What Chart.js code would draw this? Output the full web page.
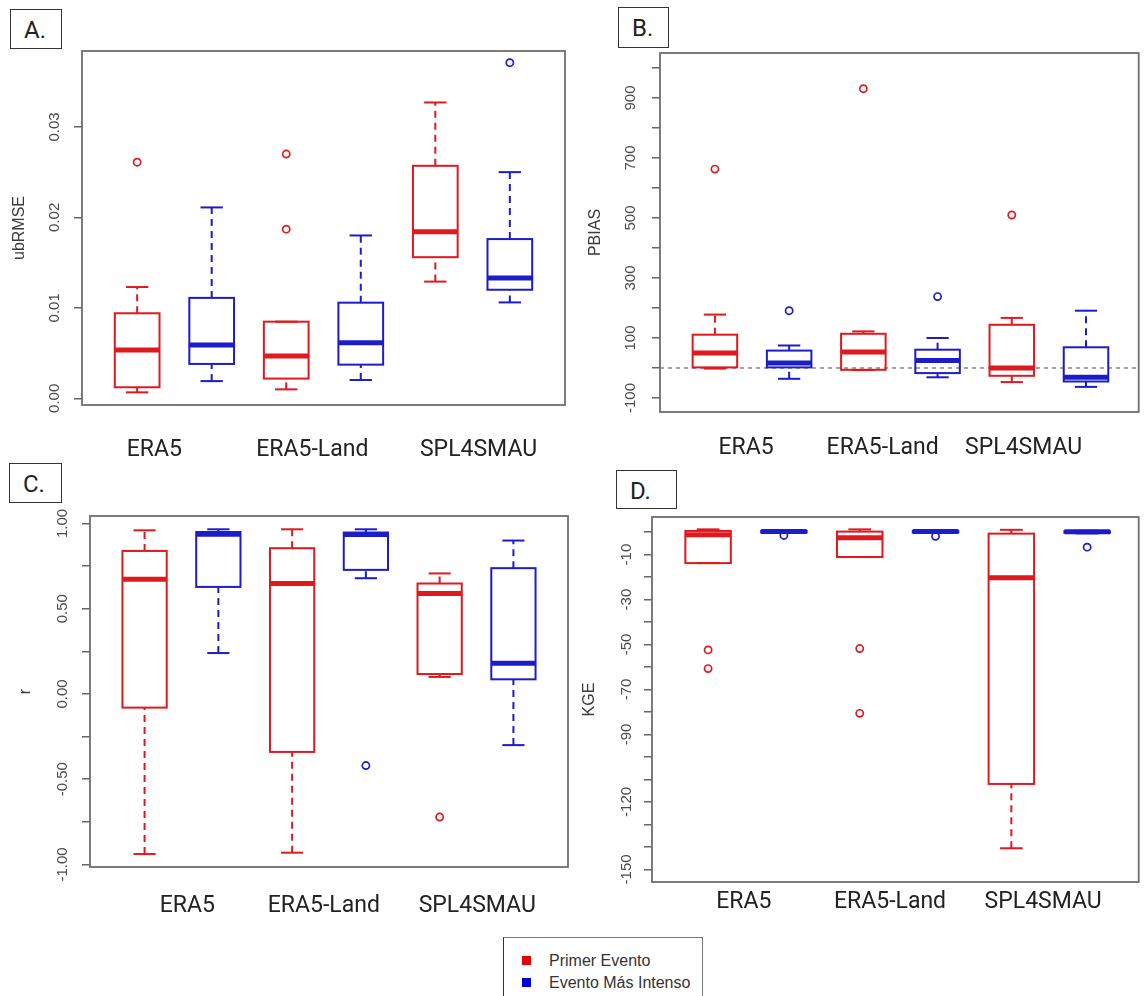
<!DOCTYPE html>
<html>
<head>
<meta charset="utf-8">
<script src="https://cdn.jsdelivr.net/npm/chart.js@4.4.1/dist/chart.umd.min.js"></script>
<style>
  html, body { margin: 0; padding: 0; background: #fff; }
  body { position: relative; width: 1144px; height: 996px; overflow: hidden; }
  canvas { position: absolute; }
  .etiqueta {
    position: absolute; box-sizing: border-box; border: 1.5px solid #333; background: #fff;
    font: 24px Roboto, sans-serif; color: #222; padding: 8px 0 0 13px; line-height: 24px;
  }
  .leyenda {
    position: absolute; left: 503px; top: 937px; width: 200px; height: 70px; box-sizing: border-box;
    border: 1.5px solid #777; border-left-color: #333; background: #fff;
    font: 16px "Liberation Sans", Arial, sans-serif; color: #333; padding-top: 12px;
  }
  .fila { position: relative; height: 22px; line-height: 22px; padding-left: 45px; }
  .cuadro { position: absolute; left: 18px; top: 6px; width: 9px; height: 9px; }
</style>
</head>
<body>
<div class="etiqueta" style="left:10px;top:9px;width:52px;height:40px">A.</div>
<div class="etiqueta" style="left:618px;top:7px;width:51px;height:41px">B.</div>
<div class="etiqueta" style="left:9px;top:463px;width:53px;height:40px">C.</div>
<div class="etiqueta" style="left:616px;top:470px;width:61px;height:39px">D.</div>

<canvas id="panelA" width="580" height="470" style="left:0;top:0"></canvas>
<canvas id="panelB" width="564" height="470" style="left:580px;top:0"></canvas>
<canvas id="panelC" width="580" height="460" style="left:0;top:470px"></canvas>
<canvas id="panelD" width="564" height="460" style="left:580px;top:470px"></canvas>

<div class="leyenda" id="leyenda"></div>

<script>
// ── Datos ──
var CATEGORIAS = ['ERA5', 'ERA5-Land', 'SPL4SMAU'];
var SERIES = ['Primer Evento', 'Evento Más Intenso'];
var COLORES = ['#e0191f', '#1c1cc8'];
var POSICIONES = [[1, 2], [3, 4], [5, 6]];   // rojo / azul por categoría

// cada caja: [mín, Q1, mediana, Q3, máx]
var ubrmsePrimer  = [[0.00066, 0.00122, 0.00534, 0.0094, 0.0123], [0.00099, 0.00218, 0.00468, 0.00847, 0.00847], [0.0129, 0.0156, 0.0184, 0.0257, 0.0327]];
var ubrmseIntenso = [[0.0019, 0.0038, 0.0059, 0.0111, 0.0211], [0.00202, 0.00372, 0.00615, 0.01057, 0.0180], [0.0106, 0.0120, 0.0133, 0.0176, 0.0250]];
var ubrmseAtipPrimer  = [[0.0261], [0.0270, 0.0187], []];
var ubrmseAtipIntenso = [[], [], [0.0371]];
var ubrmseMarcas = [0, 0.01, 0.02, 0.03];
var ubrmseTextos = [0, 0.01, 0.02, 0.03];

var pbiasPrimer  = [[-2, 2, 50, 111, 178], [-7, -6, 53, 114, 122], [-47, -26, 0, 144, 167]];
var pbiasIntenso = [[-36, 2, 17, 58, 75], [-31, -17, 25, 61, 100], [-63, -45, -31, 69, 191]];
var pbiasAtipPrimer  = [[663], [931], [510]];
var pbiasAtipIntenso = [[191], [238], []];
var pbiasMarcas = [-100, 0, 100, 200, 300, 400, 500, 600, 700, 800, 900, 1000];
var pbiasTextos = [-100, 100, 300, 500, 700, 900];

var rPrimer  = [[-0.939, -0.080, 0.673, 0.839, 0.960], [-0.931, -0.340, 0.648, 0.855, 0.966], [0.100, 0.117, 0.590, 0.648, 0.707]];
var rIntenso = [[0.240, 0.628, 0.937, 0.950, 0.966], [0.679, 0.728, 0.935, 0.947, 0.966], [-0.300, 0.086, 0.180, 0.738, 0.900]];
var rAtipPrimer  = [[], [], [-0.722]];
var rAtipIntenso = [[], [-0.420], []];
var rMarcas = [-1, -0.75, -0.5, -0.25, 0, 0.25, 0.5, 0.75, 1];
var rTextos = [-1, -0.5, 0, 0.5, 1];

var kgePrimer  = [[-13.8, -13.8, -1.2, 0.5, 1.2], [-11.1, -11.1, -2.5, 0.2, 1.2], [-140.6, -112, -20.3, -0.7, 1.0]];
var kgeIntenso = [[-0.4, -0.2, 0.3, 0.5, 0.8], [-0.4, -0.2, 0.3, 0.5, 0.8], [-0.6, -0.3, 0.1, 0.4, 0.6]];
var kgeAtipPrimer  = [[-52.4, -60.7], [-51.8, -80.6], []];
var kgeAtipIntenso = [[-1.5], [-1.9], [-6.7]];
var kgeMarcas = [0, -10, -20, -30, -40, -50, -60, -70, -80, -90, -100, -110, -120, -130, -140, -150];
var kgeTextos = [-10, -30, -50, -70, -90, -120, -150];

var ANCHO_CAJA = 0.6;

// ── Plugin: cajas, marco y textos ──
function pluginCajas(p) {
  function linea(ctx, x1, y1, x2, y2) {
    ctx.beginPath(); ctx.moveTo(x1, y1); ctx.lineTo(x2, y2); ctx.stroke();
  }
  return {
    id: 'cajas',
    beforeDatasetsDraw: function (chart) {
      var ctx = chart.ctx, sx = chart.scales.x, sy = chart.scales.y, a = chart.chartArea;
      ctx.save();
      if (p.lineaCero) {
        ctx.strokeStyle = '#888'; ctx.lineWidth = 1.5; ctx.setLineDash([4, 4]);
        var y0 = sy.getPixelForValue(0);
        linea(ctx, a.left, y0, a.right, y0);
        ctx.setLineDash([]);
      }
      [p.primer, p.intenso].forEach(function (grupo, si) {
        ctx.strokeStyle = COLORES[si];
        grupo.forEach(function (st, ci) {
          var pos = POSICIONES[ci][si];
          var xc = sx.getPixelForValue(pos);
          var half = sx.getPixelForValue(pos + ANCHO_CAJA / 2) - xc;
          var py = st.map(function (v) { return sy.getPixelForValue(v); });
          ctx.lineWidth = 2;
          ctx.setLineDash([7, 5]);
          linea(ctx, xc, py[0], xc, py[1]);
          linea(ctx, xc, py[3], xc, py[4]);
          ctx.setLineDash([]);
          linea(ctx, xc - half / 2, py[0], xc + half / 2, py[0]);
          linea(ctx, xc - half / 2, py[4], xc + half / 2, py[4]);
          ctx.strokeRect(xc - half, py[3], 2 * half, py[1] - py[3]);
          ctx.lineWidth = 5;
          linea(ctx, xc - half, py[2], xc + half, py[2]);
        });
      });
      ctx.restore();
    },
    afterDraw: function (chart) {
      var ctx = chart.ctx, sx = chart.scales.x, sy = chart.scales.y, a = chart.chartArea;
      ctx.save();
      ctx.strokeStyle = '#6e6e6e'; ctx.lineWidth = 1.8;
      ctx.strokeRect(a.left, a.top, a.right - a.left, a.bottom - a.top);

      ctx.fillStyle = '#4a4a4a';
      ctx.font = '15px "Liberation Sans", Arial, sans-serif';
      ctx.textAlign = 'center'; ctx.textBaseline = 'middle';
      p.textos.forEach(function (v) {
        ctx.save();
        ctx.translate(p.xTextos, sy.getPixelForValue(v));
        ctx.rotate(-Math.PI / 2);
        ctx.fillText(p.formato(v), 0, 0);
        ctx.restore();
      });

      ctx.save();
      ctx.fillStyle = '#3a3a3a';
      ctx.font = '16px "Liberation Sans", Arial, sans-serif';
      ctx.translate(p.xTitulo, (a.top + a.bottom) / 2);
      ctx.rotate(-Math.PI / 2);
      ctx.fillText(p.titulo, 0, 0);
      ctx.restore();

      ctx.fillStyle = '#222';
      ctx.font = '23px Roboto, sans-serif';
      CATEGORIAS.forEach(function (c, i) {
        ctx.fillText(c, sx.getPixelForValue(p.posCategorias[i]), p.yCategorias);
      });
      ctx.restore();
    }
  };
}

function construirPanel(id, p) {
  var canvas = document.getElementById(id);
  var W = canvas.width, H = canvas.height;
  var datasets = [p.atipPrimer, p.atipIntenso].map(function (grupo, si) {
    var puntos = [];
    grupo.forEach(function (vals, ci) {
      vals.forEach(function (v) { puntos.push({ x: POSICIONES[ci][si], y: v }); });
    });
    return {
      label: SERIES[si],
      data: puntos,
      pointRadius: 3.6,
      pointHoverRadius: 3.6,
      pointBorderWidth: 1.7,
      pointBorderColor: COLORES[si],
      pointBackgroundColor: 'rgba(0,0,0,0)'
    };
  });

  return new Chart(canvas, {
    type: 'scatter',
    data: { datasets: datasets },
    options: {
      responsive: false,
      animation: false,
      layout: { padding: { left: 0, top: p.area.top, right: W - p.area.right, bottom: H - p.area.bottom } },
      plugins: { legend: { display: false }, tooltip: { enabled: false } },
      scales: {
        x: { type: 'linear', display: false, min: p.xMin, max: p.xMax },
        y: {
          type: 'linear',
          min: p.yMin,
          max: p.yMax,
          afterBuildTicks: function (s) { s.ticks = p.marcas.map(function (v) { return { value: v }; }); },
          afterFit: function (s) { s.width = p.area.left; },
          ticks: { display: false },
          grid: { drawOnChartArea: false, drawTicks: true, tickLength: 8, color: '#666', lineWidth: 1.5 },
          border: { display: false }
        }
      }
    },
    plugins: [pluginCajas(p)]
  });
}

function dosDecimales(v) { return v.toFixed(2); }
function entero(v) { return String(v); }

construirPanel('panelA', {
  primer: ubrmsePrimer, intenso: ubrmseIntenso, atipPrimer: ubrmseAtipPrimer, atipIntenso: ubrmseAtipIntenso,
  marcas: ubrmseMarcas, textos: ubrmseTextos, formato: dosDecimales, titulo: 'ubRMSE',
  area: { left: 82, top: 51, right: 565, bottom: 405 },
  xMin: 0.26, xMax: 6.74, yMin: -0.00074, yMax: 0.03839,
  xTextos: 55, xTitulo: 20, posCategorias: [1.23, 3.35, 5.58], yCategorias: 450
});

construirPanel('panelB', {
  primer: pbiasPrimer, intenso: pbiasIntenso, atipPrimer: pbiasAtipPrimer, atipIntenso: pbiasAtipIntenso,
  marcas: pbiasMarcas, textos: pbiasTextos, formato: entero, titulo: 'PBIAS', lineaCero: true,
  area: { left: 80, top: 53, right: 563, bottom: 412 },
  xMin: 0.26, xMax: 6.71, yMin: -146.7, yMax: 1050,
  xTextos: 51, xTitulo: 16, posCategorias: [1.42, 3.26, 5.16], yCategorias: 448
});

construirPanel('panelC', {
  primer: rPrimer, intenso: rIntenso, atipPrimer: rAtipPrimer, atipIntenso: rAtipIntenso,
  marcas: rMarcas, textos: rTextos, formato: dosDecimales, titulo: 'r',
  area: { left: 90, top: 46, right: 568, bottom: 397 },
  xMin: 0.26, xMax: 6.74, yMin: -1.015, yMax: 1.044,
  xTextos: 63, xTitulo: 26, posCategorias: [1.58, 3.43, 5.51], yCategorias: 436
});

construirPanel('panelD', {
  primer: kgePrimer, intenso: kgeIntenso, atipPrimer: kgeAtipPrimer, atipIntenso: kgeAtipIntenso,
  marcas: kgeMarcas, textos: kgeTextos, formato: entero, titulo: 'KGE',
  area: { left: 72, top: 47, right: 563, bottom: 412 },
  xMin: 0.26, xMax: 6.68, yMin: -155.6, yMax: 6.7,
  xTextos: 47, xTitulo: 10, posCategorias: [1.47, 3.40, 5.42], yCategorias: 432
});

// ── Leyenda manual ──
var leyenda = document.getElementById('leyenda');
SERIES.forEach(function (nombre, i) {
  var fila = document.createElement('div');
  fila.className = 'fila';
  fila.innerHTML = '<span class="cuadro" style="background:' + (i === 0 ? '#e60000' : '#0000dd') + '"></span>' + nombre;
  leyenda.appendChild(fila);
});
</script>
</body>
</html>
